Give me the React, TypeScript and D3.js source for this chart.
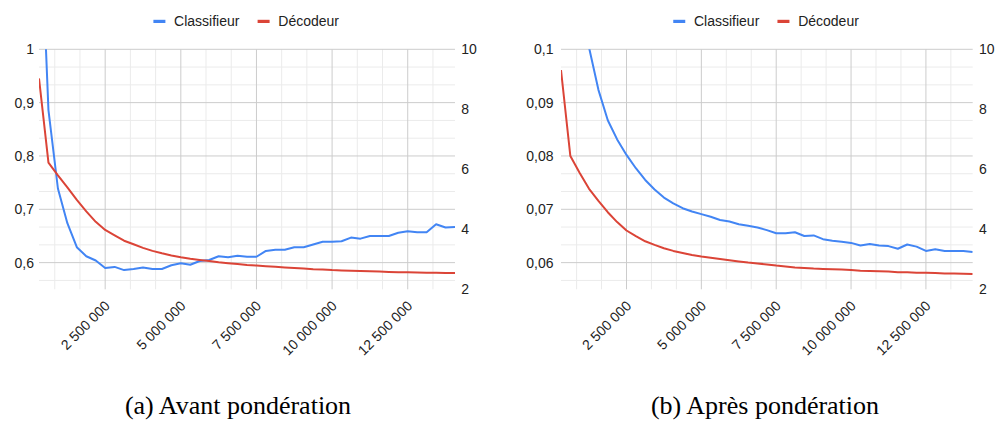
import React from "react";
import * as d3 from "d3";

// ---- data ----
const xValues = [
  312500, 625000, 937500, 1250000, 1562500, 1875000, 2187500, 2500000, 2812500,
  3125000, 3437500, 3750000, 4062500, 4375000, 4687500, 5000000, 5312500,
  5625000, 5937500, 6250000, 6562500, 6875000, 7187500, 7500000, 7812500,
  8125000, 8437500, 8750000, 9062500, 9375000, 9687500, 10000000, 10312500,
  10625000, 10937500, 11250000, 11562500, 11875000, 12187500, 12500000,
  12812500, 13125000, 13437500, 13750000, 14062500,
];

// (a) Avant pondération
const classifA = [
  1.32, 0.886, 0.739, 0.674, 0.629, 0.612, 0.604, 0.59, 0.592, 0.586, 0.588,
  0.591, 0.588, 0.588, 0.595, 0.599, 0.596, 0.603, 0.605, 0.612, 0.61, 0.613,
  0.611, 0.611, 0.622, 0.624, 0.624, 0.629, 0.629, 0.634, 0.639, 0.639, 0.64,
  0.647, 0.645, 0.65, 0.65, 0.65, 0.656, 0.659, 0.657, 0.657, 0.672, 0.666,
  0.667,
];
const decodA = [
  9.03, 6.22, 5.8, 5.4, 4.98, 4.6, 4.25, 3.98, 3.8, 3.62, 3.5, 3.38, 3.28, 3.2,
  3.13, 3.07, 3.02, 2.98, 2.94, 2.9, 2.87, 2.84, 2.81, 2.79, 2.77, 2.75, 2.73,
  2.71, 2.69, 2.67, 2.66, 2.64, 2.63, 2.62, 2.61, 2.6, 2.59, 2.58, 2.57, 2.565,
  2.56, 2.555, 2.55, 2.545, 2.54,
];

// (b) Après pondération
const classifB = [
  0.135, 0.12, 0.108, 0.1003, 0.0924, 0.0867, 0.0831, 0.0802, 0.0777, 0.0755,
  0.0737, 0.0722, 0.0711, 0.0702, 0.0696, 0.0691, 0.0686, 0.068, 0.0677,
  0.0672, 0.0669, 0.0666, 0.0661, 0.0655, 0.0655, 0.0657, 0.065, 0.0651,
  0.0644, 0.0641, 0.0639, 0.0637, 0.0632, 0.0635, 0.0632, 0.0631, 0.0626,
  0.0634, 0.063, 0.0622, 0.0625, 0.0622, 0.0622, 0.0622, 0.062,
];
const decodB = [
  9.31, 6.44, 5.88, 5.35, 4.95, 4.57, 4.24, 3.96, 3.77, 3.6, 3.48, 3.37, 3.28,
  3.21, 3.14, 3.09, 3.05, 3.01, 2.97, 2.93, 2.89, 2.86, 2.83, 2.79, 2.76, 2.73,
  2.71, 2.69, 2.68, 2.67, 2.66, 2.64, 2.62, 2.61, 2.6, 2.59, 2.57, 2.57, 2.55,
  2.55, 2.54, 2.53, 2.53, 2.52, 2.51,
];

const xTickValues = [2500000, 5000000, 7500000, 10000000, 12500000];
const xTickLabels = ["2 500 000", "5 000 000", "7 500 000", "10 000 000", "12 500 000"];

const leftTicksA = [1, 0.9, 0.8, 0.7, 0.6];
const leftLabelsA = ["1", "0,9", "0,8", "0,7", "0,6"];
const leftTicksB = [0.1, 0.09, 0.08, 0.07, 0.06];
const leftLabelsB = ["0,1", "0,09", "0,08", "0,07", "0,06"];
const rightTicks = [10, 8, 6, 4, 2];
const rightLabels = ["10", "8", "6", "4", "2"];

const seriesNames = ["Classifieur", "Décodeur"];
const captions = ["(a) Avant pondération", "(b) Après pondération"];

const BLUE = "#4285f4";
const RED = "#db4437";
const FONT = "'Liberation Sans', Arial, sans-serif";

type PanelProps = {
  id: string;
  left: number;
  right: number;
  leftDomain: [number, number];
  leftTicks: number[];
  leftLabels: string[];
  labelX: number;
  classif: number[];
  decod: number[];
  caption: string;
  captionX: number;
};

const TOP = 49.3;
const BOTTOM = 289.3;

function Panel(p: PanelProps) {
  const x = d3.scaleLinear().domain([xValues[0], xValues[xValues.length - 1]]).range([p.left, p.right]);
  const yL = d3.scaleLinear().domain(p.leftDomain).range([BOTTOM, TOP]);
  const yR = d3.scaleLinear().domain([2, 10]).range([BOTTOM, TOP]);

  const majorStep = p.leftTicks[0] - p.leftTicks[1];
  const hMinor: number[] = [];
  for (let i = 0; i < p.leftTicks.length; i++) {
    const t = p.leftTicks[i];
    for (const f of [1 / 3, 2 / 3]) {
      const v = t - majorStep * f;
      if (v > p.leftDomain[0] + 1e-9) hMinor.push(v);
    }
  }
  const vStep = xTickValues[1] - xTickValues[0];
  const vMinor: number[] = [];
  for (let m = 0; m <= xTickValues.length; m++) {
    for (const f of [1 / 3, 2 / 3]) {
      const v = m * vStep + vStep * f;
      if (v > xValues[0] && v < xValues[xValues.length - 1]) vMinor.push(v);
    }
  }

  const lineL = d3
    .line<number>()
    .x((_, i) => x(xValues[i]))
    .y((d) => yL(d));
  const lineR = d3
    .line<number>()
    .x((_, i) => x(xValues[i]))
    .y((d) => yR(d));

  const cx = (p.left + p.right) / 2;
  // legend layout
  const swW = 12;
  const gap1 = 8.7;
  const w1 = 66.1;
  const gap2 = 17.4;
  const w2 = 62.3;
  const totalW = swW + gap1 + w1 + gap2 + swW + gap1 + w2;
  const lx = cx - totalW / 2;
  const items = [
    { name: seriesNames[0], color: BLUE, x: lx },
    { name: seriesNames[1], color: RED, x: lx + swW + gap1 + w1 + gap2 },
  ];

  return (
    <g>
      <defs>
        <clipPath id={p.id}>
          <rect x={p.left} y={TOP} width={p.right - p.left} height={BOTTOM - TOP} />
        </clipPath>
      </defs>
      {/* legend */}
      {items.map((it) => (
        <g key={it.name}>
          <rect x={it.x} y={19.8} width={swW} height={3.2} fill={it.color} />
          <text x={it.x + swW + gap1} y={26.3} fontFamily={FONT} fontSize={14} fill="#222">
            {it.name}
          </text>
        </g>
      ))}
      {/* gridlines */}
      {hMinor.map((v, i) => (
        <line key={"hm" + i} x1={p.left} x2={p.right} y1={yL(v)} y2={yL(v)} stroke="#ebebeb" strokeWidth={1} />
      ))}
      {vMinor.map((v, i) => (
        <line key={"vm" + i} x1={x(v)} x2={x(v)} y1={TOP} y2={BOTTOM} stroke="#ebebeb" strokeWidth={1} />
      ))}
      {p.leftTicks.map((v, i) => (
        <line key={"hM" + i} x1={p.left} x2={p.right} y1={yL(v)} y2={yL(v)} stroke="#cccccc" strokeWidth={1} />
      ))}
      {xTickValues.map((v, i) => (
        <line key={"vM" + i} x1={x(v)} x2={x(v)} y1={TOP} y2={BOTTOM} stroke="#cccccc" strokeWidth={1} />
      ))}
      {/* lines */}
      <g clipPath={`url(#${p.id})`}>
        <path d={lineL(p.classif) || ""} fill="none" stroke={BLUE} strokeWidth={2} strokeLinejoin="round" />
        <path d={lineR(p.decod) || ""} fill="none" stroke={RED} strokeWidth={2} strokeLinejoin="round" />
      </g>
      {/* left axis labels */}
      {p.leftTicks.map((v, i) => (
        <text key={"ll" + i} x={p.labelX} y={yL(v) + 5} textAnchor="end" fontFamily={FONT} fontSize={14} fill="#222">
          {p.leftLabels[i]}
        </text>
      ))}
      {/* right axis labels */}
      {rightTicks.map((v, i) => (
        <text key={"rl" + i} x={p.right + 6.2} y={yR(v) + 5} textAnchor="start" fontFamily={FONT} fontSize={14} fill="#222">
          {rightLabels[i]}
        </text>
      ))}
      {/* x labels */}
      {xTickValues.map((v, i) => {
        const tx = x(v);
        const ty = 301;
        return (
          <text
            key={"xl" + i}
            x={tx}
            y={ty}
            dy={8}
            textAnchor="end"
            transform={`rotate(-45, ${tx}, ${ty})`}
            fontFamily={FONT}
            fontSize={14}
            fill="#222"
          >
            {xTickLabels[i]}
          </text>
        );
      })}
      {/* caption */}
      <text x={p.captionX} y={414} textAnchor="middle" fontFamily="'Liberation Serif', 'Times New Roman', serif" fontSize={26} fill="#000">
        {p.caption}
      </text>
    </g>
  );
}

export default function App() {
  return (
    <svg
      width={997}
      height={423}
      style={{ position: "absolute", left: 0, top: 0, background: "#fff" }}
    >
      <rect x={0} y={0} width={997} height={423} fill="#fff" />
      <Panel
        id="clipA"
        left={39}
        right={455}
        leftDomain={[0.55, 1]}
        leftTicks={leftTicksA}
        leftLabels={leftLabelsA}
        labelX={34}
        classif={classifA}
        decod={decodA}
        caption={captions[0]}
        captionX={238}
      />
      <Panel
        id="clipB"
        left={561}
        right={972.7}
        leftDomain={[0.055, 0.1]}
        leftTicks={leftTicksB}
        leftLabels={leftLabelsB}
        labelX={553.5}
        classif={classifB}
        decod={decodB}
        caption={captions[1]}
        captionX={765}
      />
    </svg>
  );
}
